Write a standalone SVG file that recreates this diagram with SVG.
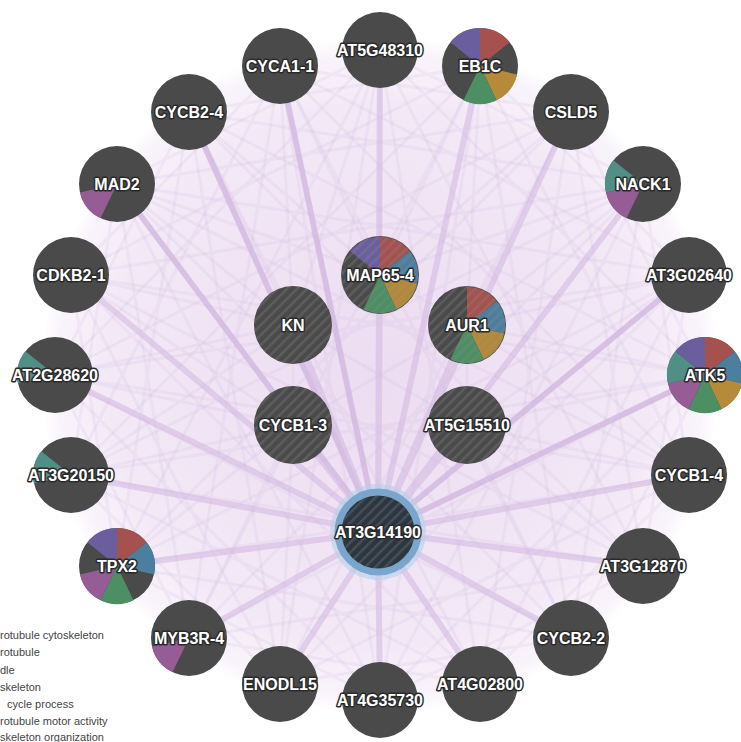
<svg xmlns="http://www.w3.org/2000/svg" xmlns:xlink="http://www.w3.org/1999/xlink" width="741" height="742" viewBox="0 0 741 742">
<style>
.n{fill:#4a4a4a}
.h{fill:url(#hatch)}
.t{font-family:"Liberation Sans",Arial,sans-serif;font-size:16px;font-weight:bold;fill:#fff;stroke:#2a2a2a;stroke-width:3;stroke-linejoin:round;paint-order:stroke;text-anchor:middle}
.lg{font-family:"Liberation Sans",Arial,sans-serif;font-size:11px;fill:#444}
.c1{fill:#a5514e}.c2{fill:#4c7f9e}.c3{fill:#b58a38}.c4{fill:#4c8f62}.c5{fill:#955c96}.c6{fill:#508e86}.c7{fill:#6b5e9f}
.e{fill:none;stroke:#d2b6e0;stroke-opacity:.55;stroke-width:6}
.f{fill:none;stroke:#d0b2dd;stroke-opacity:.16;stroke-width:3}
</style>
<defs>
<radialGradient id="haze" cx="380" cy="375" r="340" gradientUnits="userSpaceOnUse">
<stop offset="0" stop-color="#ecdcf1"/>
<stop offset="0.8" stop-color="#f3e9f6"/>
<stop offset="0.95" stop-color="#f9f4fb"/>
<stop offset="1" stop-color="#ffffff"/>
</radialGradient>
<pattern id="hatch" width="7" height="7" patternUnits="userSpaceOnUse" patternTransform="rotate(45)">
<rect width="2.5" height="7" fill="#8a8a8a" fill-opacity="0.3"/>
</pattern>
<path id="s1" d="M0,0L0,-38A38,38 0 0 1 29.71,-23.69Z"/>
<path id="s2" d="M0,0L29.71,-23.69A38,38 0 0 1 37.05,8.46Z"/>
<path id="s3" d="M0,0L37.05,8.46A38,38 0 0 1 16.49,34.24Z"/>
<path id="s4" d="M0,0L16.49,34.24A38,38 0 0 1 -16.49,34.24Z"/>
<path id="s5" d="M0,0L-16.49,34.24A38,38 0 0 1 -37.05,8.46Z"/>
<path id="s6" d="M0,0L-37.05,8.46A38,38 0 0 1 -29.71,-23.69Z"/>
<path id="s7" d="M0,0L-29.71,-23.69A38,38 0 0 1 0,-38Z"/>
</defs>
<rect width="741" height="742" fill="#ffffff"/>
<circle cx="380" cy="375" r="338" fill="url(#haze)"/>

<g id="edges">
<path class="f" d="M380,50L705,375 M480,66L689,475 M571,112L643,566 M643,184L571,638 M689,275L480,684 M705,375L380,700 M689,475L280,684 M643,566L189,638 M571,638L117,566 M480,684L71,475 M380,700L55,375 M280,684L71,275 M189,638L117,184 M117,566L189,112 M71,475L280,66 M55,375L380,50 M71,275L480,66 M117,184L571,112 M189,112L643,184 M280,66L689,275"/>
<path class="f" d="M380,50L643,566 M480,66L571,638 M571,112L480,684 M643,184L380,700 M689,275L280,684 M705,375L189,638 M689,475L117,566 M643,566L71,475 M571,638L55,375 M480,684L71,275 M380,700L117,184 M280,684L189,112 M189,638L280,66 M117,566L380,50 M71,475L480,66 M55,375L571,112 M71,275L643,184 M117,184L689,275 M189,112L705,375 M280,66L689,475"/>
<path class="f" d="M380,50L480,684 M480,66L380,700 M571,112L280,684 M643,184L189,638 M689,275L117,566 M705,375L71,475 M689,475L55,375 M643,566L71,275 M571,638L117,184 M480,684L189,112 M380,700L280,66 M280,684L380,50 M189,638L480,66 M117,566L571,112 M71,475L643,184 M55,375L689,275 M71,275L705,375 M117,184L689,475 M189,112L643,566 M280,66L571,638"/>
<path class="f" d="M380,50L643,184 M480,66L689,275 M571,112L705,375 M643,184L689,475 M689,275L643,566 M705,375L571,638 M689,475L480,684 M643,566L380,700 M571,638L280,684 M480,684L189,638 M380,700L117,566 M280,684L71,475 M189,638L55,375 M117,566L71,275 M71,475L117,184 M55,375L189,112 M71,275L280,66 M117,184L380,50 M189,112L480,66 M280,66L571,112"/>
<path class="f" d="M293,325L117,184 M293,325L189,112 M293,325L280,66 M293,325L71,275 M293,325L55,375 M293,325L71,475 M293,325L380,50 M380,275L380,50 M380,275L480,66 M380,275L280,66 M380,275L571,112 M380,275L189,112 M380,275L643,184 M380,275L117,184 M467,325L480,66 M467,325L571,112 M467,325L643,184 M467,325L689,275 M467,325L705,375 M467,325L689,475 M467,425L705,375 M467,425L689,475 M467,425L643,566 M467,425L689,275 M467,425L571,638 M293,425L117,566 M293,425L71,475 M293,425L55,375 M293,425L189,638 M293,425L280,684 M293,425L71,275 M293,325L380,275 M380,275L467,325 M467,325L467,425 M293,325L293,425 M293,425L467,325 M293,325L467,425"/>
<path class="e" d="M378,532L380,50 M378,532L480,66 M378,532L571,112 M378,532L643,184 M378,532L689,275 M378,532L705,375 M378,532L689,475 M378,532L643,566 M378,532L571,638 M378,532L480,684 M378,532L380,700 M378,532L280,684 M378,532L189,638 M378,532L117,566 M378,532L71,475 M378,532L55,375 M378,532L71,275 M378,532L117,184 M378,532L189,112 M378,532L280,66 M378,532L380,275 M378,532L467,325 M378,532L467,425 M378,532L293,425 M378,532L293,325"/>
<path class="e" style="stroke-width:5" d="M378,532L189,112 M378,532L280,66 M378,532L117,184 M378,532L689,275 M378,532L705,375"/>
</g>

<g id="n-AT5G48310"><circle class="n" cx="380" cy="50" r="38"/><text class="t" x="380" y="55.6">AT5G48310</text></g>
<g id="n-EB1C"><circle class="n" cx="480" cy="66" r="38"/><use xlink:href="#s1" x="480" y="66" class="c1"/><use xlink:href="#s3" x="480" y="66" class="c3"/><use xlink:href="#s4" x="480" y="66" class="c4"/><use xlink:href="#s7" x="480" y="66" class="c7"/><text class="t" x="480" y="71.6">EB1C</text></g>
<g id="n-CSLD5"><circle class="n" cx="571" cy="112" r="38"/><text class="t" x="571" y="117.6">CSLD5</text></g>
<g id="n-NACK1"><circle class="n" cx="643" cy="184" r="38"/><use xlink:href="#s5" x="643" y="184" class="c5"/><use xlink:href="#s6" x="643" y="184" class="c6"/><text class="t" x="643" y="189.6">NACK1</text></g>
<g id="n-AT3G02640"><circle class="n" cx="689" cy="275" r="38"/><text class="t" x="689" y="280.6">AT3G02640</text></g>
<g id="n-ATK5"><circle class="n" cx="705" cy="375" r="38"/><use xlink:href="#s1" x="705" y="375" class="c1"/><use xlink:href="#s2" x="705" y="375" class="c2"/><use xlink:href="#s3" x="705" y="375" class="c3"/><use xlink:href="#s4" x="705" y="375" class="c4"/><use xlink:href="#s5" x="705" y="375" class="c5"/><use xlink:href="#s6" x="705" y="375" class="c6"/><use xlink:href="#s7" x="705" y="375" class="c7"/><text class="t" x="705" y="380.6">ATK5</text></g>
<g id="n-CYCB1-4"><circle class="n" cx="689" cy="475" r="38"/><text class="t" x="689" y="480.6">CYCB1-4</text></g>
<g id="n-AT3G12870"><circle class="n" cx="643" cy="566" r="38"/><text class="t" x="643" y="571.6">AT3G12870</text></g>
<g id="n-CYCB2-2"><circle class="n" cx="571" cy="638" r="38"/><text class="t" x="571" y="643.6">CYCB2-2</text></g>
<g id="n-AT4G02800"><circle class="n" cx="480" cy="684" r="38"/><text class="t" x="480" y="689.6">AT4G02800</text></g>
<g id="n-AT4G35730"><circle class="n" cx="380" cy="700" r="38"/><text class="t" x="380" y="705.6">AT4G35730</text></g>
<g id="n-ENODL15"><circle class="n" cx="280" cy="684" r="38"/><text class="t" x="280" y="689.6">ENODL15</text></g>
<g id="n-MYB3R-4"><circle class="n" cx="189" cy="638" r="38"/><use xlink:href="#s5" x="189" y="638" class="c5"/><text class="t" x="189" y="643.6">MYB3R-4</text></g>
<g id="n-TPX2"><circle class="n" cx="117" cy="566" r="38"/><use xlink:href="#s1" x="117" y="566" class="c1"/><use xlink:href="#s2" x="117" y="566" class="c2"/><use xlink:href="#s4" x="117" y="566" class="c4"/><use xlink:href="#s5" x="117" y="566" class="c5"/><use xlink:href="#s7" x="117" y="566" class="c7"/><text class="t" x="117" y="571.6">TPX2</text></g>
<g id="n-AT3G20150"><circle class="n" cx="71" cy="475" r="38"/><use xlink:href="#s6" x="71" y="475" class="c6"/><text class="t" x="71" y="480.6">AT3G20150</text></g>
<g id="n-AT2G28620"><circle class="n" cx="55" cy="375" r="38"/><use xlink:href="#s6" x="55" y="375" class="c6"/><text class="t" x="55" y="380.6">AT2G28620</text></g>
<g id="n-CDKB2-1"><circle class="n" cx="71" cy="275" r="38"/><text class="t" x="71" y="280.6">CDKB2-1</text></g>
<g id="n-MAD2"><circle class="n" cx="117" cy="184" r="38"/><use xlink:href="#s5" x="117" y="184" class="c5"/><text class="t" x="117" y="189.6">MAD2</text></g>
<g id="n-CYCB2-4"><circle class="n" cx="189" cy="112" r="38"/><text class="t" x="189" y="117.6">CYCB2-4</text></g>
<g id="n-CYCA1-1"><circle class="n" cx="280" cy="66" r="38"/><text class="t" x="280" y="71.6">CYCA1-1</text></g>

<g id="n-MAP65-4"><circle class="n" cx="380" cy="275" r="39"/><use xlink:href="#s1" x="380" y="275" class="c1"/><use xlink:href="#s2" x="380" y="275" class="c2"/><use xlink:href="#s3" x="380" y="275" class="c3"/><use xlink:href="#s4" x="380" y="275" class="c4"/><use xlink:href="#s7" x="380" y="275" class="c7"/><circle class="h" cx="380" cy="275" r="39"/><text class="t" x="380" y="280.6">MAP65-4</text></g>
<g id="n-KN"><circle class="n" cx="293" cy="325" r="39"/><circle class="h" cx="293" cy="325" r="39"/><text class="t" x="293" y="330.6">KN</text></g>
<g id="n-AUR1"><circle class="n" cx="467" cy="325" r="39"/><use xlink:href="#s1" x="467" y="325" class="c1"/><use xlink:href="#s2" x="467" y="325" class="c2"/><use xlink:href="#s3" x="467" y="325" class="c3"/><use xlink:href="#s4" x="467" y="325" class="c4"/><circle class="h" cx="467" cy="325" r="39"/><text class="t" x="467" y="330.6">AUR1</text></g>
<g id="n-CYCB1-3"><circle class="n" cx="293" cy="425" r="39"/><circle class="h" cx="293" cy="425" r="39"/><text class="t" x="293" y="430.6">CYCB1-3</text></g>
<g id="n-AT5G15510"><circle class="n" cx="467" cy="425" r="39"/><circle class="h" cx="467" cy="425" r="39"/><text class="t" x="467" y="430.6">AT5G15510</text></g>

<g id="n-AT3G14190">
<circle cx="378" cy="532" r="48" fill="#b6d0e8" fill-opacity="0.6"/>
<circle cx="378" cy="532" r="40" fill="#2b3640" stroke="#7aa6cd" stroke-width="7"/>
<circle class="h" cx="378" cy="532" r="37"/>
<text class="t" x="378" y="537.6">AT3G14190</text>
</g>

<g id="legend">
<text class="lg" x="0" y="638.5">rotubule cytoskeleton</text>
<text class="lg" x="0" y="656">rotubule</text>
<text class="lg" x="0" y="673.5">dle</text>
<text class="lg" x="0" y="690.5">skeleton</text>
<text class="lg" x="7" y="707.5">cycle process</text>
<text class="lg" x="0" y="724.5">rotubule motor activity</text>
<text class="lg" x="0" y="741">skeleton organization</text>
</g>
</svg>
